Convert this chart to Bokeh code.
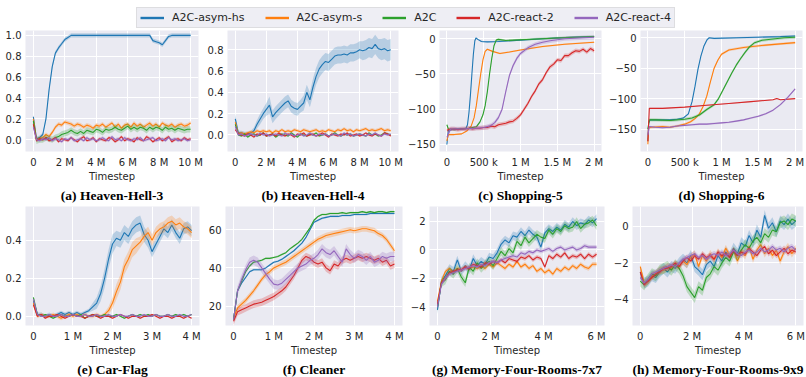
import numpy as np
from bokeh.plotting import figure
from bokeh.layouts import column, row
from bokeh.models import FixedTicker, Legend, LegendItem, Range1d
from bokeh.embed import file_html
from bokeh.resources import INLINE

NAMES = ["A2C-asym-hs", "A2C-asym-s", "A2C", "A2C-react-2", "A2C-react-4"]
COLORS = ["#1f77b4", "#ff7f0e", "#2ca02c", "#d62728", "#9467bd"]

# ---------------- (a) Heaven-Hell-3 : 0..10 M ----------------
a_hs = [0.22, 0.01, 0.02, 0.05, 0.2, 0.48, 0.7, 0.83, 0.88, 0.92,
        0.96, 0.98, 1.0, 1.0, 1.0, 1.0, 1.0, 1.0, 1.0, 1.0,
        1.0, 1.0, 1.0, 1.0, 1.0, 1.0, 1.0, 1.0, 1.0, 1.0,
        1.0, 1.0, 1.0, 1.0, 1.0, 1.0, 1.0, 1.0, 0.95, 0.94,
        0.93, 0.91, 0.95, 0.99, 1.0, 1.0, 1.0, 1.0, 1.0, 1.0,
        1.0]
a_s = [0.2, 0.0, 0.01, 0.02, 0.05, 0.03, 0.07, 0.12, 0.15, 0.14,
       0.17, 0.16, 0.15, 0.13, 0.15, 0.14, 0.12, 0.14, 0.13, 0.11,
       0.14, 0.13, 0.15, 0.12, 0.14, 0.16, 0.12, 0.15, 0.11, 0.14,
       0.15, 0.12, 0.16, 0.13, 0.15, 0.12, 0.14, 0.16, 0.13, 0.15,
       0.12, 0.16, 0.14, 0.13, 0.15, 0.12, 0.14, 0.15, 0.13, 0.14,
       0.16]
a_a2c = [0.18, -0.01, 0.0, 0.0, 0.02, 0.01, 0.0, 0.02, 0.03, 0.05,
         0.06, 0.07, 0.09, 0.07, 0.06, 0.08, 0.06, 0.09, 0.08, 0.07,
         0.1, 0.09, 0.07, 0.1, 0.09, 0.1, 0.12, 0.1, 0.09, 0.11,
         0.13, 0.1, 0.12, 0.1, 0.12, 0.11, 0.09, 0.12, 0.1, 0.12,
         0.11, 0.09, 0.12, 0.1, 0.11, 0.09, 0.11, 0.1, 0.09, 0.1,
         0.1]
a_r2 = [0.15, -0.01, 0.01, 0.0, 0.02, -0.01, 0.0, 0.02, -0.02, 0.01,
        0.0, -0.01, 0.02, 0.0, -0.02, 0.01, 0.03, -0.01, 0.0, 0.02,
        -0.02, 0.01, 0.0, -0.01, 0.02, 0.01, -0.02, 0.0, 0.03, -0.01,
        0.01, 0.0, -0.02, 0.02, 0.0, -0.01, 0.03, 0.01, -0.02, 0.0,
        0.02, -0.01, 0.01, 0.03, -0.02, 0.0, 0.01, -0.01, 0.02, 0.0,
        0.01]
a_r4 = [0.12, 0.0, -0.01, 0.01, 0.0, 0.02, -0.01, 0.01, 0.0, -0.02,
        0.01, 0.0, 0.02, -0.01, 0.0, 0.01, -0.01, 0.02, 0.0, 0.01,
        -0.01, 0.0, 0.02, 0.0, -0.01, 0.03, 0.0, 0.01, -0.01, 0.02,
        0.0, -0.01, 0.01, 0.0, 0.02, -0.01, 0.0, 0.01, 0.02, -0.01,
        0.0, 0.01, -0.01, 0.02, 0.0, 0.01, -0.01, 0.0, 0.01, -0.01,
        0.0]
a_band = [0.02, 0.02, 0.03, 0.015, 0.015]

# ---------------- (b) Heaven-Hell-4 : 0..10 M ----------------
b_hs = [0.15, 0.02, 0.02, 0.01, 0.01, 0.02, 0.04, 0.1, 0.15, 0.2,
        0.24, 0.28, 0.17, 0.21, 0.24, 0.27, 0.3, 0.32, 0.27, 0.25,
        0.24, 0.27, 0.3, 0.4, 0.33, 0.45, 0.55, 0.62, 0.66, 0.69,
        0.68, 0.71, 0.74, 0.75, 0.75, 0.76, 0.75, 0.77, 0.77, 0.78,
        0.8, 0.79, 0.8, 0.82, 0.81, 0.85, 0.81, 0.8, 0.81, 0.79,
        0.8]
b_hs_band = [0.05, 0.02, 0.02, 0.02, 0.02, 0.02, 0.03, 0.04, 0.05, 0.05,
             0.06, 0.08, 0.06, 0.06, 0.06, 0.06, 0.06, 0.06, 0.06, 0.06,
             0.06, 0.06, 0.07, 0.07, 0.07, 0.08, 0.08, 0.08, 0.08, 0.08,
             0.08, 0.08, 0.08, 0.08, 0.08, 0.08, 0.08, 0.08, 0.08, 0.08,
             0.08, 0.09, 0.09, 0.09, 0.09, 0.09, 0.09, 0.1, 0.1, 0.1,
             0.1]
b_s = [0.12, 0.01, 0.02, 0.01, 0.02, 0.03, 0.02, 0.04, 0.03, 0.04,
       0.03, 0.04, 0.02, 0.04, 0.03, 0.05, 0.03, 0.04, 0.03, 0.05,
       0.04, 0.03, 0.05, 0.04, 0.03, 0.04, 0.05, 0.03, 0.04, 0.03,
       0.05, 0.04, 0.03, 0.05, 0.04, 0.06, 0.04, 0.05, 0.03, 0.05,
       0.04, 0.05, 0.06, 0.04, 0.05, 0.04, 0.05, 0.06, 0.04, 0.05,
       0.04]
b_a2c = [0.1, 0.0, -0.01, 0.01, -0.02, 0.0, 0.01, -0.01, 0.0, 0.02,
         -0.01, 0.0, 0.01, -0.02, 0.0, 0.01, 0.0, -0.01, 0.02, 0.0,
         -0.02, 0.01, 0.0, -0.01, 0.01, 0.0, 0.02, -0.01, 0.0, 0.01,
         -0.01, 0.0, 0.02, 0.0, -0.01, 0.01, 0.0, 0.01, -0.01, 0.0,
         0.01, 0.0, -0.01, 0.02, 0.0, 0.01, -0.01, 0.0, 0.02, 0.01,
         0.0]
b_r2 = [0.05, 0.01, 0.0, -0.01, 0.01, 0.0, -0.02, 0.01, 0.0, 0.02,
        -0.01, 0.0, 0.01, -0.01, 0.02, 0.0, -0.01, 0.01, 0.0, -0.02,
        0.01, 0.0, 0.02, -0.01, 0.0, 0.01, -0.01, 0.0, 0.02, 0.0,
        -0.02, 0.01, 0.0, -0.01, 0.01, 0.0, 0.02, -0.01, 0.0, 0.01,
        -0.01, 0.0, 0.02, 0.0, -0.01, 0.01, 0.0, -0.01, 0.02, 0.01,
        -0.01]
b_r4 = [0.08, 0.0, 0.01, -0.01, 0.0, 0.01, 0.0, -0.01, 0.02, 0.0,
        0.01, -0.01, 0.0, 0.01, 0.0, -0.01, 0.02, 0.0, 0.01, -0.01,
        0.0, 0.01, -0.01, 0.0, 0.02, 0.0, -0.01, 0.01, 0.0, 0.01,
        -0.01, 0.0, 0.01, 0.0, -0.01, 0.02, 0.0, 0.01, -0.01, 0.0,
        0.01, 0.0, -0.01, 0.01, 0.0, 0.02, 0.0, -0.01, 0.01, 0.0,
        0.01]
b_band = [b_hs_band, 0.015, 0.01, 0.01, 0.01]

# ---------------- (c) Shopping-5 : 0..2 M ----------------
c_hs_x = [0, 0.02, 0.1, 0.2, 0.26, 0.28, 0.3, 0.32, 0.34, 0.36, 0.38, 0.395, 0.42, 0.47, 0.55, 0.7, 1.0, 1.3, 1.6, 2.0]
c_hs_y = [-150, -130, -128, -128, -127, -122, -105, -80, -50, -22, -3, 1, -1, -4, -4.5, -4, -2, 0, 1.5, 3]
c_s_x = [0, 0.02, 0.1, 0.2, 0.27, 0.33, 0.37, 0.4, 0.43, 0.46, 0.49, 0.52, 0.55, 0.62, 0.72, 0.85, 1.0, 1.3, 1.6, 2.0]
c_s_y = [-145, -136, -136, -135, -131, -124, -112, -95, -72, -50, -30, -18, -15, -18, -21, -19, -16, -11, -8, -5]
c_a2c_x = [0, 0.02, 0.1, 0.2, 0.3, 0.4, 0.45, 0.49, 0.52, 0.55, 0.58, 0.61, 0.64, 0.67, 0.7, 0.8, 1.0, 1.3, 1.6, 2.0]
c_a2c_y = [-122, -128, -129, -128, -127, -125, -118, -108, -95, -75, -50, -28, -10, -2, -1, -2.5, -1.5, 0, 1.5, 3]
c_r2_y = [-130, -128, -128, -129, -128, -128, -127, -128, -127, -127,
          -126, -126, -124, -125, -122, -121, -120, -118, -117, -113,
          -108, -100, -92, -82, -74, -64, -58, -48, -40, -36,
          -30, -31, -24, -24, -20, -17, -18, -15, -19, -14,
          -17]
c_r4_x = [0, 0.05, 0.2, 0.4, 0.5, 0.6, 0.65, 0.7, 0.75, 0.8, 0.85, 0.9, 0.95, 1.0, 1.1, 1.2, 1.3, 1.4, 1.6, 1.8, 2.0]
c_r4_y = [-140, -128, -128, -127, -126, -123, -119, -112, -100, -75, -52, -38, -28, -21, -13, -8, -5, -3, 0, 1, 2]
c_band = [1.0, 1.0, 1.5, 3.0, 3.0]

# ---------------- (d) Shopping-6 : 0..2 M ----------------
d_hs_x = [0, 0.01, 0.03, 0.1, 0.2, 0.3, 0.4, 0.48, 0.55, 0.6, 0.64, 0.68, 0.72, 0.76, 0.8, 0.83, 0.9, 1.2, 1.5, 1.8, 2.0]
d_hs_y = [-170, -140, -135, -135, -135, -135, -134, -132, -125, -105, -80, -52, -30, -14, -4, 0, -1, 0, 1, 2, 3]
d_s_x = [0, 0.01, 0.05, 0.2, 0.3, 0.4, 0.5, 0.58, 0.64, 0.7, 0.75, 0.8, 0.85, 0.9, 0.95, 1.0, 1.1, 1.3, 1.6, 1.8, 2.0]
d_s_y = [-175, -148, -147, -146, -147, -145, -142, -138, -133, -125, -113, -96, -72, -50, -37, -27, -20, -16, -12, -10, -8]
d_a2c_x = [0, 0.02, 0.1, 0.3, 0.5, 0.6, 0.7, 0.8, 0.9, 0.96, 1.02, 1.08, 1.14, 1.2, 1.26, 1.32, 1.38, 1.45, 1.55, 1.7, 1.85, 2.0]
d_a2c_y = [-150, -135, -135, -136, -134, -132, -127, -118, -110, -100, -86, -72, -58, -45, -34, -24, -15, -8, -4, -2, 0, 1]
d_r2_x = [0, 0.02, 0.2, 0.5, 0.8, 1.1, 1.4, 1.7, 1.75, 1.8, 2.0]
d_r2_y = [-170, -116, -116, -114, -111, -108, -105, -102, -100, -102, -100]
d_r4_x = [0, 0.02, 0.1, 0.2, 0.3, 0.4, 0.5, 0.6, 0.7, 0.8, 0.9, 1.0, 1.1, 1.2, 1.3, 1.4, 1.5, 1.6, 1.7, 1.8, 1.9, 2.0]
d_r4_y = [-160, -146, -147, -148, -147, -145, -144, -143, -142, -142, -141, -140, -139, -137, -135, -132, -129, -125, -119, -110, -98, -84]
d_band = [1.5, 2.0, 2.5, 0.8, 1.5]

# ---------------- (e) Car-Flag : 0..4 M ----------------
e_hs = [0.08, 0.01, 0.01, 0.0, 0.01, 0.0, 0.01, 0.02, 0.01, 0.02,
        0.01, 0.02, 0.01, 0.02, 0.03, 0.05, 0.07, 0.12, 0.2, 0.3,
        0.38, 0.41, 0.4, 0.44, 0.42, 0.46, 0.48, 0.49, 0.43, 0.4,
        0.34, 0.38, 0.42, 0.46, 0.44, 0.48, 0.44, 0.41, 0.46, 0.47,
        0.45]
e_hs_band = [0.02, 0.01, 0.01, 0.01, 0.01, 0.01, 0.01, 0.01, 0.01, 0.01,
             0.01, 0.01, 0.01, 0.01, 0.01, 0.02, 0.03, 0.04, 0.05, 0.05,
             0.05, 0.04, 0.04, 0.04, 0.04, 0.04, 0.04, 0.04, 0.04, 0.04,
             0.03, 0.03, 0.03, 0.03, 0.03, 0.03, 0.03, 0.03, 0.03, 0.03,
             0.03]
e_s = [0.07, 0.0, 0.01, 0.0, 0.0, 0.01, 0.0, -0.01, 0.0, 0.01,
       0.0, 0.01, 0.0, 0.01, 0.0, 0.0, 0.01, 0.0, 0.01, 0.03,
       0.07, 0.13, 0.18, 0.26, 0.3, 0.35, 0.37, 0.39, 0.42, 0.44,
       0.4, 0.44, 0.46, 0.47, 0.49, 0.5, 0.48, 0.49, 0.47, 0.46,
       0.44]
e_s_band = [0.02, 0.01, 0.01, 0.01, 0.01, 0.01, 0.01, 0.01, 0.01, 0.01,
            0.01, 0.01, 0.01, 0.01, 0.01, 0.01, 0.01, 0.01, 0.01, 0.02,
            0.03, 0.04, 0.04, 0.04, 0.04, 0.04, 0.04, 0.03, 0.03, 0.03,
            0.03, 0.03, 0.03, 0.03, 0.03, 0.03, 0.03, 0.03, 0.03, 0.03,
            0.03]
e_a2c = [0.1, 0.01, 0.0, 0.01, 0.0, -0.01, 0.0, 0.01, 0.0, 0.0,
         0.01, 0.0, 0.01, -0.01, 0.0, 0.01, 0.0, 0.0, 0.01, 0.0,
         0.0, 0.01, 0.0, -0.01, 0.0, 0.01, 0.0, 0.01, 0.0, 0.01,
         0.0, 0.01, 0.0, 0.0, 0.01, 0.0, 0.01, 0.0, 0.01, 0.0,
         0.01]
e_r2 = [0.06, 0.0, 0.01, -0.01, 0.0, 0.0, 0.01, 0.0, -0.01, 0.0,
        0.01, 0.0, 0.0, -0.01, 0.0, 0.01, 0.0, -0.01, 0.0, 0.0,
        -0.01, 0.0, 0.01, 0.0, -0.01, 0.0, 0.0, -0.01, 0.0, 0.0,
        0.01, 0.0, -0.01, 0.0, 0.0, -0.01, 0.0, 0.0, -0.01, 0.0,
        -0.01]
e_r4 = [0.09, 0.01, 0.0, 0.0, 0.01, 0.0, 0.0, 0.01, 0.0, 0.0,
        0.01, 0.0, 0.0, 0.01, 0.0, 0.0, 0.01, 0.0, 0.0, 0.01,
        0.0, 0.0, 0.01, 0.0, 0.0, 0.01, 0.0, 0.0, 0.01, 0.0,
        0.0, 0.01, 0.0, 0.0, 0.01, 0.0, 0.0, 0.01, 0.0, 0.0,
        0.01]
e_band = [e_hs_band, e_s_band, 0.004, 0.004, 0.004]

# ---------------- (f) Cleaner : 0..4 M ----------------
f_hs = [13, 28, 32, 35, 38, 39, 39, 39, 40, 41.5,
        43, 43.5, 44.5, 46, 47.5, 49, 51, 53, 56, 60,
        64, 65, 66, 66.5, 67, 67, 67, 67.5, 67.5, 67.5,
        68, 68, 68, 68, 68.5, 68.5, 68.5, 68.5, 68.5, 68.5,
        68.5]
f_s = [14, 19, 21, 23, 25.5, 28, 31, 34, 36.5, 38,
       40, 41, 42, 43, 44.5, 46, 47.5, 49, 50.5, 52,
       53.5, 55, 56, 57, 57.5, 58, 58.5, 59, 59.5, 60,
       59.5, 60, 60.5, 60.5, 60, 59.5, 58, 57, 55, 52,
       49]
f_a2c = [13, 28, 33, 38, 41, 43, 43.5, 44, 45, 45,
         45.5, 46, 47, 48, 50, 51.5, 53, 55, 58, 61,
         65, 67, 68, 68, 68.5, 68.5, 68.5, 69, 68.5, 69,
         69, 69, 69.5, 69, 69.5, 69, 69.5, 69.5, 69, 69.5,
         69.5]
f_r2 = [12, 17, 18, 19, 20, 21, 21.5, 22, 23, 24,
        25, 26.5, 28, 30, 33, 36, 40, 44, 46, 45,
        43, 42, 43, 40, 38.5, 42, 41, 44, 45, 44,
        45, 46, 45, 46, 45, 44, 45, 43, 44, 41,
        42]
f_r4 = [13, 28, 34, 39, 43, 44, 43, 40, 37, 34,
        31.5, 31, 32, 34, 36, 38, 40, 41, 42, 44,
        45, 47, 50, 48, 47, 49, 46, 43, 50, 47,
        45, 47, 46, 44, 46, 43, 44, 46, 45, 46,
        46]
f_band = [0.5, 1.5, 0.5, 2.0, 2.5]

# ---------------- (g) Memory-Four-Rooms-7x7 : 0..6 M ----------------
g_hs = [-4.2, -2.2, -1.8, -1.3, -1.5, -0.7, -1.5, -1.1, -1.4, -0.6,
        -1.1, -0.8, -1.0, -0.5, -0.6, -0.2, 0.4, 0.7, 0.5, 1.0,
        0.9, 1.3, 1.0, 1.4, 1.1, 0.9, 0.2, 1.2, 1.5, 1.3,
        1.6, 1.4, 1.8, 1.6, 2.0, 1.7, 1.9, 1.8, 2.1, 1.9,
        2.2]
g_s = [-3.6, -2.2, -1.5, -1.3, -1.6, -1.3, -1.4, -1.2, -1.3, -1.2,
       -1.3, -1.1, -1.3, -1.0, -1.2, -0.9, -1.1, -1.3, -1.0, -1.2,
       -0.8, -1.2, -1.0, -1.3, -1.1, -1.5, -1.3, -1.6, -1.4, -1.7,
       -1.3, -1.5, -1.2, -1.4, -1.1, -1.3, -1.0, -1.2, -1.3, -1.0,
       -1.0]
g_a2c = [-4.0, -2.3, -2.1, -1.5, -1.7, -1.3, -1.9, -2.3, -1.2, -1.5,
         -0.9, -1.3, -1.0, -0.8, -1.1, -0.6, -0.1, -0.4, 0.1, -0.2,
         0.6, 0.3, 0.9, 0.5, 0.8, 1.1, 0.9, 0.8, 1.4, 1.1,
         1.5, 1.3, 1.7, 1.5, 1.6, 2.0, 1.5, 1.8, 1.9, 2.1,
         1.7]
g_r2 = [-3.8, -2.3, -2.0, -1.6, -1.5, -1.4, -1.4, -1.2, -1.3, -1.0,
        -1.1, -1.2, -0.9, -1.0, -0.8, -0.9, -0.7, -0.9, -0.6, -0.7,
        -0.8, -0.5, -0.6, -0.4, -0.7, -0.5, -0.6, -1.2, -0.4, -0.6,
        -0.3, -0.5, -0.2, -0.6, -0.4, -0.5, -0.3, -0.6, -0.3, -0.5,
        -0.3]
g_r4 = [-4.0, -2.4, -2.0, -1.7, -1.6, -1.5, -1.4, -1.3, -1.2, -1.1,
        -1.2, -1.0, -1.1, -0.9, -0.8, -0.9, -0.7, -0.6, -0.5, -0.4,
        -0.5, -0.2, -0.3, -0.1, -0.2, 0.0, -0.1, 0.0, 0.1, -0.1,
        0.1, 0.2, 0.0, 0.1, 0.2, 0.0, 0.1, 0.3, 0.2, 0.2,
        0.2]
g_band = [0.3, 0.15, 0.3, 0.15, 0.15]

# ---------------- (h) Memory-Four-Rooms-9x9 : 0..6 M ----------------
h_hs = [-2.5, -3.1, -3.0, -2.7, -2.8, -2.5, -2.3, -2.5, -2.2, -2.3,
        -2.0, -1.8, -2.0, -1.6, -2.2, -2.4, -2.65, -2.1, -1.9, -2.2,
        -1.6, -1.9, -1.4, -1.7, -1.2, -1.5, -0.9, -1.1, -0.5, -0.9,
        -0.2, -0.6, 0.6, -0.1, 0.2, -0.3, 0.3, 0.1, 0.4, 0.1,
        0.3]
h_s = [-2.2, -3.1, -3.0, -2.7, -2.6, -2.4, -2.4, -2.2, -2.3, -2.1,
       -2.2, -1.9, -2.1, -1.7, -1.5, -2.2, -1.6, -1.9, -1.5, -1.8,
       -1.4, -1.7, -1.2, -1.6, -1.3, -1.9, -1.4, -1.6, -1.1, -1.8,
       -1.3, -1.0, -1.5, -1.2, -1.6, -1.3, -1.9, -1.4, -1.1, -1.5,
       -1.2]
h_a2c = [-3.0, -3.2, -2.9, -2.6, -2.7, -2.4, -2.3, -2.2, -2.4, -2.1,
         -2.3, -2.7, -3.3, -3.6, -3.9, -3.3, -3.5, -2.8, -2.6, -2.2,
         -2.4, -2.0, -1.7, -1.9, -1.4, -1.6, -1.3, -1.0, -1.2, -0.8,
         -0.6, -0.9, -0.4, -0.6, -0.2, -0.3, 0.2, 0.3, 0.1, 0.4,
         0.3]
h_r2 = [-2.5, -3.2, -3.0, -2.8, -2.6, -2.5, -2.3, -2.3, -2.2, -2.0,
        -2.2, -1.9, -1.7, -1.9, -1.6, -1.8, -1.5, -1.7, -1.6, -1.8,
        -1.4, -1.6, -1.5, -1.7, -1.3, -1.6, -1.4, -1.5, -1.2, -1.4,
        -1.6, -1.3, -1.1, -1.5, -1.3, -1.6, -1.4, -1.2, -1.5, -1.3,
        -1.4]
h_r4 = [-2.8, -3.1, -2.9, -2.6, -2.5, -2.4, -2.3, -2.2, -2.1, -2.2,
        -2.0, -1.8, -1.7, -1.6, -1.5, -1.7, -1.6, -1.8, -1.6, -1.5,
        -1.6, -1.4, -1.6, -1.5, -1.3, -1.5, -1.6, -1.4, -1.3, -1.5,
        -1.4, -1.2, -1.4, -1.3, -1.1, -1.3, -1.2, -1.4, -1.2, -1.1,
        -1.3]
h_band = [0.3, 0.2, 0.3, 0.15, 0.15]

# ---------------- ticks ----------------
x10_ticks = [0, 2, 4, 6, 8, 10]
x10_labels = ["0", "2 M", "4 M", "6 M", "8 M", "10 M"]
x2_ticks = [0, 0.5, 1, 1.5, 2]
x2_labels = ["0", "500 k", "1 M", "1.5 M", "2 M"]
x4_ticks = [0, 1, 2, 3, 4]
x4_labels = ["0", "1 M", "2 M", "3 M", "4 M"]
x6_ticks = [0, 2, 4, 6]
x6_labels = ["0", "2 M", "4 M", "6 M"]

FONT = "DejaVu Sans"
SERIF = "'Liberation Serif'"
TXT = "#262626"


def make_panel(caption, xr, yr, xt, xl, yt, yl, w, h, bl, br, bt, bb):
    p = figure(width=w, height=h, x_range=Range1d(*xr), y_range=Range1d(*yr),
               output_backend="svg", toolbar_location=None,
               title=caption, title_location="below",
               min_border_left=bl, min_border_right=br,
               min_border_top=bt, min_border_bottom=bb)
    p.background_fill_color = "#eaeaf2"
    p.border_fill_color = "white"
    p.outline_line_color = None
    p.grid.grid_line_color = "white"
    p.grid.grid_line_width = 1
    p.xaxis.ticker = FixedTicker(ticks=xt)
    p.xaxis.major_label_overrides = {t: l for t, l in zip(xt, xl)}
    p.yaxis.ticker = FixedTicker(ticks=yt)
    p.yaxis.major_label_overrides = {t: l for t, l in zip(yt, yl)}
    for ax in (p.xaxis[0], p.yaxis[0]):
        ax.axis_line_color = None
        ax.major_tick_line_color = None
        ax.minor_tick_line_color = None
        ax.major_tick_out = 0
        ax.major_tick_in = 0
        ax.minor_tick_out = 0
        ax.major_label_text_font = FONT
        ax.major_label_text_font_size = "10px"
        ax.major_label_text_color = TXT
    p.xaxis.major_label_standoff = 5
    p.yaxis.major_label_standoff = 4
    p.xaxis.axis_label = "Timestep"
    p.xaxis.axis_label_text_font = FONT
    p.xaxis.axis_label_text_font_size = "10px"
    p.xaxis.axis_label_text_font_style = "normal"
    p.xaxis.axis_label_text_color = TXT
    p.xaxis.axis_label_standoff = 0
    p.title.align = "center"
    p.title.text_font = SERIF
    p.title.text_font_size = "13.5px"
    p.title.text_font_style = "bold"
    p.title.text_color = "black"
    p.title.standoff = 2
    return p


def add_series(p, xmax, ys, bands, xs=None):
    for i, (y, b) in enumerate(zip(ys, bands)):
        y = np.asarray(y, dtype=float)
        if xs is not None and xs[i] is not None:
            x = np.asarray(xs[i], dtype=float)
        else:
            x = np.linspace(0, xmax, len(y))
        bw = np.asarray(b, dtype=float) * np.ones_like(y)
        p.varea(x=x, y1=y - bw, y2=y + bw, fill_color=COLORS[i], fill_alpha=0.25)
        p.line(x=x, y=y, line_color=COLORS[i], line_width=1.1)


H1, H2 = 174, 174

# Row 1
pa = make_panel("(a) Heaven-Hell-3", (-0.5, 10.5), (-0.113, 1.047), x10_ticks, x10_labels,
                [0, 0.2, 0.4, 0.6, 0.8, 1.0], ["0.0", "0.2", "0.4", "0.6", "0.8", "1.0"],
                203, H1, 25, 5, 1, 50)
add_series(pa, 10, [a_hs, a_s, a_a2c, a_r2, a_r4], a_band)

pb = make_panel("(b) Heaven-Hell-4", (-0.5, 10.5), (-0.155, 0.98), x10_ticks, x10_labels,
                [0, 0.2, 0.4, 0.6, 0.8], ["0.0", "0.2", "0.4", "0.6", "0.8"],
                201, H1, 24, 6, 1, 50)
add_series(pb, 10, [b_hs, b_s, b_a2c, b_r2, b_r4], b_band)

pc = make_panel("(c) Shopping-5", (-0.1, 2.1), (-160, 11.6), x2_ticks, x2_labels,
                [-150, -100, -50, 0], ["\u2212150", "\u2212100", "\u221250", "0"],
                202, H1, 35, 5, 1, 50)
add_series(pc, 2, [c_hs_y, c_s_y, c_a2c_y, c_r2_y, c_r4_y], c_band,
           xs=[c_hs_x, c_s_x, c_a2c_x, None, c_r4_x])

pd_ = make_panel("(d) Shopping-6", (-0.1, 2.1), (-187, 12), x2_ticks, x2_labels,
                 [-150, -100, -50, 0], ["\u2212150", "\u2212100", "\u221250", "0"],
                 200, H1, 34, 4, 1, 50)
add_series(pd_, 2, [d_hs_y, d_s_y, d_a2c_y, d_r2_y, d_r4_y], d_band,
           xs=[d_hs_x, d_s_x, d_a2c_x, d_r2_x, d_r4_x])

# Row 2
pe = make_panel("(e) Car-Flag", (-0.2, 4.2), (-0.048, 0.577), x4_ticks, x4_labels,
                [0, 0.2, 0.4], ["0.0", "0.2", "0.4"],
                205, H2, 25, 6, 3, 50)
add_series(pe, 4, [e_hs, e_s, e_a2c, e_r2, e_r4], e_band)

pf = make_panel("(f) Cleaner", (-0.2, 4.2), (9.8, 72.2), x4_ticks, x4_labels,
                [20, 40, 60], ["20", "40", "60"],
                202, H2, 18, 5, 3, 50)
add_series(pf, 4, [f_hs, f_s, f_a2c, f_r2, f_r4], f_band)

pg = make_panel("(g) Memory-Four-Rooms-7x7", (-0.3, 6.3), (-5.3, 3.05), x6_ticks, x6_labels,
                [-4, -2, 0, 2], ["\u22124", "\u22122", "0", "2"],
                203, H2, 19, 6, 3, 50)
add_series(pg, 6, [g_hs, g_s, g_a2c, g_r2, g_r4], g_band)

ph = make_panel("(h) Memory-Four-Rooms-9x9", (-0.3, 6.3), (-5.43, 1.09), x6_ticks, x6_labels,
                [-4, -2, 0], ["\u22124", "\u22122", "0"],
                196, H2, 19, 3, 3, 50)
add_series(ph, 6, [h_hs, h_s, h_a2c, h_r2, h_r4], h_band)

# Legend strip
lf = figure(width=806, height=29, output_backend="svg", toolbar_location=None,
            x_range=Range1d(0, 1), y_range=Range1d(0, 1), min_border=0,
            x_axis_location=None, y_axis_location=None)
lf.grid.visible = False
lf.outline_line_color = None
lf.background_fill_color = None
lf.border_fill_color = None
rends = [lf.line(x=[np.nan, np.nan], y=[np.nan, np.nan], line_color=c, line_width=2.4)
         for c in COLORS]
leg = Legend(items=[LegendItem(label=n, renderers=[r]) for n, r in zip(NAMES, rends)],
             orientation="horizontal", location=(136, 1),
             label_text_font=FONT, label_text_font_size="11px", label_text_color=TXT,
             glyph_width=24, glyph_height=11, label_height=11, label_standoff=8,
             spacing=20, padding=3, margin=0,
             border_line_color="#cccccc", border_line_width=1,
             background_fill_color="#eeeef4", background_fill_alpha=1.0)
lf.add_layout(leg, "center")

layout = column(lf, row(pa, pb, pc, pd_), row(pe, pf, pg, ph))

with open("out.html", "w") as fh:
    fh.write(file_html(layout, INLINE))
